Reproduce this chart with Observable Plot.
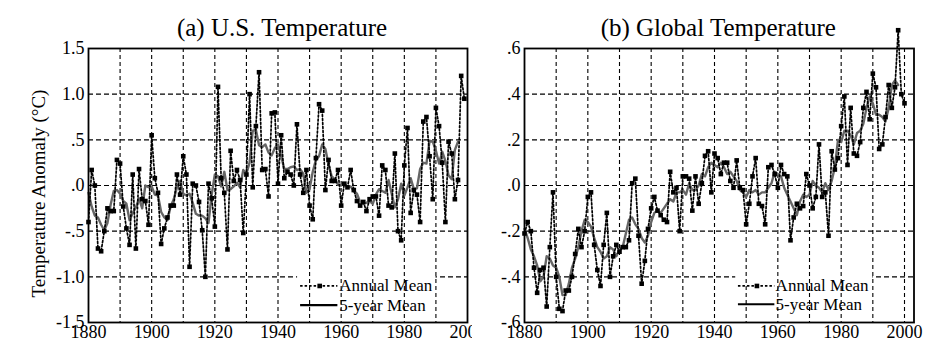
<!DOCTYPE html>
<html><head><meta charset="utf-8">
<script src="https://cdn.jsdelivr.net/npm/d3@7"></script>
<script src="https://cdn.jsdelivr.net/npm/@observablehq/plot@0.6"></script>
<style>
body{margin:0;background:#fff;}
#wrap{display:flex;width:944px;height:358px;background:#fff;}
#wrap svg text{font-family:'Liberation Serif','Times New Roman','DejaVu Serif',serif !important;}
</style></head><body><div id="wrap"></div>
<script>
// ---------- data ----------
const usStartYear = 1880;
const usAnnual = [
 -0.40, 0.17, 0.00,-0.69,-0.72,-0.50,-0.25,-0.28,-0.28, 0.28,
  0.24,-0.23,-0.47,-0.65, 0.12,-0.69, 0.18,-0.15,-0.17,-0.43,
  0.55, 0.08,-0.08,-0.64,-0.47,-0.35,-0.22,-0.22, 0.12,-0.10,
  0.32, 0.12,-0.89, 0.02, 0.00,-0.18,-0.49,-1.00, 0.02,-0.14,
 -0.45, 1.08, 0.08,-0.08,-0.70, 0.38, 0.05, 0.17, 0.06,-0.52,
  0.12, 1.00,-0.02, 0.65, 1.24, 0.17, 0.18,-0.12, 0.79, 0.80,
  0.02, 0.55, 0.08, 0.15, 0.12, 0.00, 0.67, 0.12,-0.08, 0.17,
 -0.22,-0.37, 0.30, 0.89, 0.82,-0.05, 0.28, 0.05, 0.05, 0.17,
 -0.22, 0.02,-0.02, 0.17,-0.05,-0.17,-0.22,-0.18,-0.28,-0.15,
 -0.12,-0.12,-0.33, 0.22, 0.17,-0.22,-0.24, 0.35,-0.50,-0.60,
  0.22, 0.63,-0.30,-0.05,-0.10,-0.40, 0.70, 0.75, 0.32,-0.15,
  0.85, 0.65, 0.25,-0.40, 0.48, 0.35,-0.15, 0.06, 1.20, 0.95
];
const us5yrStartYear = 1880;
const us5yr = [
 -0.08,-0.23,-0.33,-0.35,-0.43,-0.49,-0.41,-0.21,-0.06,-0.05,
 -0.09,-0.17,-0.20,-0.38,-0.30,-0.24,-0.14,-0.25, 0.00,-0.02,
 -0.01,-0.10,-0.11,-0.29,-0.35,-0.38,-0.23,-0.15,-0.02, 0.05,
 -0.09,-0.11,-0.09,-0.19,-0.31,-0.33,-0.33,-0.36,-0.41,-0.10,
  0.12, 0.10,-0.01, 0.15,-0.05,-0.04,-0.01, 0.03,-0.02, 0.17,
  0.13, 0.25, 0.60, 0.61, 0.44, 0.42, 0.45, 0.36, 0.33, 0.41,
  0.45, 0.32, 0.18, 0.18, 0.20, 0.21, 0.17, 0.18, 0.13,-0.08,
 -0.04, 0.15, 0.28, 0.32, 0.45, 0.40, 0.23, 0.10, 0.07, 0.01,
  0.00, 0.02,-0.02,-0.01,-0.06,-0.09,-0.18,-0.20,-0.19,-0.17,
 -0.20,-0.10,-0.04,-0.06,-0.08, 0.06,-0.09,-0.24,-0.15, 0.02,
 -0.11,-0.02, 0.08,-0.04,-0.03, 0.18, 0.25, 0.24, 0.49, 0.48,
  0.38, 0.24, 0.37, 0.27, 0.11, 0.07, 0.39, 0.48
];
const glStartYear = 1880;
const glAnnual = [
 -0.21,-0.16,-0.20,-0.36,-0.47,-0.37,-0.36,-0.53,-0.27,-0.03,
 -0.40,-0.54,-0.55,-0.46,-0.46,-0.40,-0.30,-0.19,-0.27,-0.20,
 -0.05,-0.03,-0.26,-0.37,-0.44,-0.26,-0.12,-0.40,-0.31,-0.26,
 -0.29,-0.27,-0.27,-0.24, 0.01, 0.03,-0.22,-0.43,-0.33,-0.19,
 -0.10,-0.05,-0.11,-0.13,-0.15,-0.16, 0.06,-0.03,-0.01,-0.20,
  0.04, 0.04, 0.03,-0.11, 0.04,-0.08, 0.01, 0.13, 0.15,-0.03,
  0.14, 0.12, 0.05, 0.10, 0.10, 0.02,-0.01, 0.11,-0.01,-0.02,
 -0.17,-0.08, 0.04, 0.12,-0.08,-0.09,-0.17, 0.08, 0.09, 0.05,
 -0.01, 0.09, 0.05, 0.04,-0.24,-0.14,-0.08,-0.10,-0.09, 0.05,
  0.00,-0.10,-0.05, 0.18,-0.05,-0.03,-0.22, 0.15, 0.07, 0.12,
  0.26, 0.39, 0.09, 0.34, 0.14, 0.13, 0.19, 0.34, 0.41, 0.29,
  0.49, 0.43, 0.16, 0.18, 0.30, 0.44, 0.34, 0.43, 0.68, 0.40,
  0.36
];
const gl5yrStartYear = 1880;
const gl5yr = [
 -0.19,-0.23,-0.28,-0.31,-0.35,-0.42,-0.40,-0.31,-0.32,-0.35,
 -0.36,-0.40,-0.48,-0.48,-0.43,-0.36,-0.32,-0.27,-0.20,-0.15,
 -0.16,-0.18,-0.23,-0.27,-0.29,-0.32,-0.31,-0.27,-0.28,-0.31,
 -0.28,-0.27,-0.21,-0.15,-0.14,-0.17,-0.19,-0.23,-0.25,-0.22,
 -0.16,-0.12,-0.11,-0.12,-0.10,-0.08,-0.06,-0.07,-0.03,-0.03,
 -0.02,-0.04, 0.01,-0.02,-0.02, 0.00, 0.05, 0.04, 0.08, 0.10,
  0.09, 0.08, 0.10, 0.08, 0.05, 0.06, 0.04, 0.02,-0.02,-0.03,
 -0.05,-0.02,-0.03,-0.02,-0.04,-0.03,-0.03,-0.01, 0.01, 0.06,
  0.05, 0.04,-0.01,-0.04,-0.07,-0.10,-0.13,-0.07,-0.04,-0.05,
 -0.04, 0.02, 0.00,-0.01,-0.03, 0.01,-0.02, 0.02, 0.08, 0.20,
  0.19, 0.24, 0.24, 0.22, 0.18, 0.23, 0.24, 0.27, 0.34, 0.39,
  0.36, 0.31, 0.31, 0.30, 0.28, 0.34, 0.44, 0.46, 0.44
];

const xTicks = [1880, 1900, 1920, 1940, 1960, 1980, 2000];
const xTickLabels = ["1880", "1900", "1920", "1940", "1960", "1980", "2000"];
const usYTicks = [-1.5, -1.0, -0.5, 0, 0.5, 1.0, 1.5];
const usYTickLabels = ["-1.5", "-1.0", "-.5", ".0", ".5", "1.0", "1.5"];
const glYTicks = [-0.6, -0.4, -0.2, 0, 0.2, 0.4, 0.6];
const glYTickLabels = ["-.6", "-.4", "-.2", ".0", ".2", ".4", ".6"];
const usGridY = [-1.0, -0.5, 0, 0.5, 1.0];
const glGridY = [-0.4, -0.2, 0, 0.2, 0.4];
const usGridX = [1890, 1900, 1910, 1920, 1930, 1940, 1950, 1960, 1970, 1980, 1990];
const glGridX = [1890, 1900, 1910, 1920, 1930, 1940, 1950, 1960, 1970, 1980, 1990, 2000];
const titles = ["(a) U.S. Temperature", "(b) Global Temperature"];
const yAxisTitle = "Temperature Anomaly (\u00B0C)";
const legendLabels = ["Annual Mean", "5-year Mean"];

const FONT = "'Liberation Serif', 'Times New Roman', 'DejaVu Serif', serif";

function toRows(start, vals) { return vals.map((v, i) => ({year: start + i, value: v})); }

function panel(o) {
  const annual = toRows(o.start, o.annual);
  const five = toRows(o.start5, o.five);
  const L = o.legend;
  return Plot.plot({
    width: 472, height: 358,
    marginTop: 48, marginBottom: 36, marginLeft: o.marginLeft, marginRight: o.marginRight,
    style: {fontFamily: FONT, fontSize: "18px", background: "white", color: "black", overflow: "visible"},
    x: {domain: o.xDomain, ticks: xTicks, tickFormat: d => xTickLabels[xTicks.indexOf(d)], tickSize: 0, tickPadding: 3, label: null},
    y: {domain: o.yDomain, ticks: o.yTicks, tickFormat: d => o.yLabels[o.yTicks.indexOf(d)], tickSize: 0, tickPadding: 4, label: null},
    marks: [
      Plot.ruleY(o.gridY, {stroke: "#000", strokeWidth: 1.1, strokeDasharray: "5,3"}),
      Plot.rect([L.box], {x1: "x1", x2: "x2", y1: "y1", y2: "y2", fill: "white"}),
      Plot.ruleX(o.gridX, {stroke: "#000", strokeWidth: 1.1, strokeDasharray: "4,3"}),
      Plot.line(five, {x: "year", y: "value", stroke: "#666", strokeWidth: 2.4}),
      Plot.line(annual, {x: "year", y: "value", stroke: "#000", strokeWidth: 1.7, strokeDasharray: "2,2"}),
      Plot.dot(annual, {x: "year", y: "value", symbol: "square", r: 2.6, fill: "#000", stroke: "none"}),
      Plot.frame({stroke: "#000", strokeWidth: 1.8}),
      // legend
      Plot.link([L.row1], {x1: "x1", x2: "x2", y1: "y", y2: "y", stroke: "#000", strokeWidth: 1.7, strokeDasharray: "2.5,2"}),
      Plot.dot([L.row1], {x: "xm", y: "y", symbol: "square", r: 2.6, fill: "#000", stroke: "none"}),
      Plot.link([L.row2], {x1: "x1", x2: "x2", y1: "y", y2: "y", stroke: "#000", strokeWidth: 2.2}),
      Plot.text([L.row1, L.row2], {x: "xt", y: "y", text: "label", textAnchor: "start", lineAnchor: "middle", fontSize: 17, fill: "#000"}),
      // title
      Plot.text([o.title], {frameAnchor: "top", textAnchor: "middle", lineAnchor: "middle", dy: -21, dx: o.titleDx, fontSize: 25, fill: "#000"}),
      ...(o.ylabel ? [Plot.text([o.ylabel], {frameAnchor: "left", textAnchor: "middle", lineAnchor: "middle", rotate: -90, dx: -50, dy: 8, fontSize: 19, fill: "#000"})] : [])
    ]
  });
}

const wrap = document.getElementById("wrap");
wrap.append(panel({
  start: usStartYear, annual: usAnnual, start5: us5yrStartYear, five: us5yr,
  xDomain: [1880, 2000], yDomain: [-1.5, 1.5], yTicks: usYTicks, yLabels: usYTickLabels,
  gridY: usGridY, gridX: usGridX, marginLeft: 88, marginRight: 5,
  title: titles[0], titleDx: 4, ylabel: yAxisTitle,
  legend: {
    box: {x1: 1946.2, x2: 1990, y1: -1.5, y2: -0.90},
    row1: {x1: 1947.0, x2: 1958.8, xm: 1953.2, xt: 1959.4, y: -1.10, label: legendLabels[0]},
    row2: {x1: 1947.0, x2: 1958.8, xt: 1959.4, y: -1.31, label: legendLabels[1]}
  }
}));
wrap.append(panel({
  start: glStartYear, annual: glAnnual, start5: gl5yrStartYear, five: gl5yr,
  xDomain: [1880, 2003], yDomain: [-0.6, 0.6], yTicks: glYTicks, yLabels: glYTickLabels,
  gridY: glGridY, gridX: glGridX, marginLeft: 52, marginRight: 30.5,
  title: titles[1], titleDx: -1, ylabel: null,
  legend: {
    box: {x1: 1946.7, x2: 1990, y1: -0.6, y2: -0.37},
    row1: {x1: 1947.4, x2: 1958.9, xm: 1953.4, xt: 1959.3, y: -0.44, label: legendLabels[0]},
    row2: {x1: 1947.4, x2: 1958.9, xt: 1959.3, y: -0.52, label: legendLabels[1]}
  }
}));
</script></body></html>
